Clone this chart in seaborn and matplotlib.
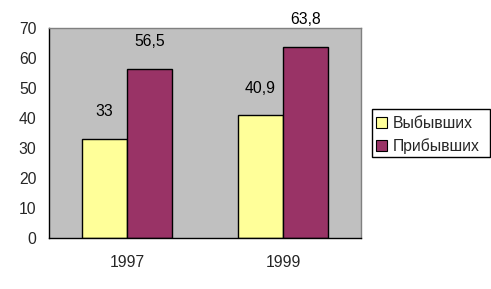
import matplotlib
matplotlib.use("Agg")
import matplotlib.pyplot as plt
from matplotlib.patches import Rectangle
import seaborn as sns
import pandas as pd

years = ["1997", "1999"]
series = ["Выбывших", "Прибывших"]
vybyvshih = [33, 40.9]
pribyvshih = [56.5, 63.8]
labels_vyb = ["33", "40,9"]
labels_prib = ["56,5", "63,8"]
yticks = [0, 10, 20, 30, 40, 50, 60, 70]

df = pd.DataFrame({
    "year": years * 2,
    "series": [series[0]] * 2 + [series[1]] * 2,
    "value": vybyvshih + pribyvshih,
    "label": labels_vyb + labels_prib,
})

sns.set_style("white")
plt.rcParams["font.family"] = ["Liberation Sans", "DejaVu Sans"]
FS = 11.3
W, H = 491, 289

fig = plt.figure(figsize=(4.91, 2.89), dpi=100)
ax = fig.add_axes([49 / W, 51 / H, 312 / W, 210 / H])
ax.set_facecolor("#C0C0C0")

palette = {series[0]: "#FFFF99", series[1]: "#993366"}
sns.barplot(data=df, x="year", y="value", hue="series", palette=palette,
            order=years, hue_order=series, width=0.577, ax=ax,
            edgecolor="black", linewidth=1.0, saturation=1, legend=True)

for container, labs in zip(ax.containers, [labels_vyb, labels_prib]):
    for bar, lab in zip(container, labs):
        ax.annotate(lab, (bar.get_x() + bar.get_width() / 2, bar.get_height()),
                    xytext=(0, 27), textcoords="offset pixels",
                    ha="center", va="center", fontsize=FS, color="black",
                    annotation_clip=False)

ax.set_ylim(0, 70)
ax.set_yticks(yticks)
ax.set_yticklabels([str(t) for t in yticks], fontsize=FS)
ax.set_xlim(-0.5, 1.5)
ax.set_xticks([0, 1])
ax.set_xticklabels(years, fontsize=FS)
ax.set_xlabel("")
ax.set_ylabel("")

ax.set_xticks([-0.5, 0.5, 1.5], minor=True)
ax.tick_params(axis="x", which="major", length=0, pad=12)
ax.tick_params(axis="x", which="minor", length=5, width=1, color="black", direction="out")
ax.tick_params(axis="y", length=5, width=1, color="black", direction="out", pad=4)

for s in ["left", "bottom"]:
    ax.spines[s].set_color("black")
    ax.spines[s].set_linewidth(1)
for s in ["top", "right"]:
    ax.spines[s].set_visible(True)
    ax.spines[s].set_color("#808080")
    ax.spines[s].set_linewidth(1)

leg = ax.legend(loc="center left", bbox_to_anchor=(376 / W, 154 / H),
                bbox_transform=fig.transFigure, frameon=False, fontsize=FS,
                handlelength=0.7, handleheight=0.7, handletextpad=0.35,
                borderpad=0, labelspacing=0.5, borderaxespad=0)
for h in leg.legend_handles:
    h.set_edgecolor("black")
    h.set_linewidth(0.8)

fig.patches.append(Rectangle((372 / W, 132 / H), 118 / W, 48 / H,
                             transform=fig.transFigure, fill=False,
                             edgecolor="black", linewidth=1))

fig.savefig("out.png", dpi=100)
